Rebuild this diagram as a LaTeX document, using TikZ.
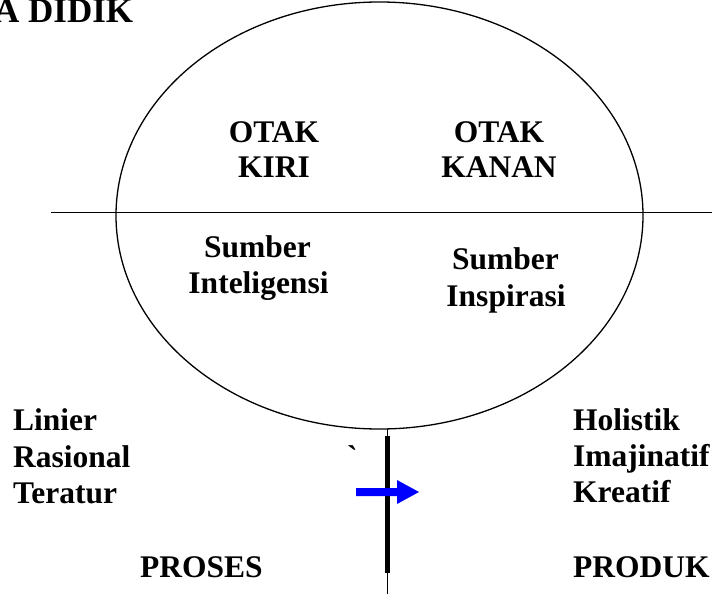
\documentclass[tikz,border=0pt]{standalone}
\usepackage{fontspec}
\setmainfont{Liberation Serif}
\newfontfamily\gravefont{Liberation Serif}
\begin{document}
\begin{tikzpicture}[x=1pt,y=-1pt,
  txt/.style={inner sep=0pt,anchor=base,font=\fontsize{31.5}{36}\selectfont\bfseries},
  txtw/.style={txt,anchor=base west}]
\useasboundingbox (0,0) rectangle (712,594);
% ellipse and dividing line
\draw[line width=1.3pt] (379.5,215.5) ellipse [x radius=263.5, y radius=213.5];
\coordinate (hl) at (51,212.5);
\coordinate (hr) at (712,212.5);
\draw[line width=1.3pt] (hl) -- (hr);
% title
\node[txtw,font=\fontsize{35}{40}\selectfont\bfseries] (title) at (-6,23) {A DIDIK};
% upper texts
\node[txt] (otak1) at (274,142) {OTAK};
\node[txt] (kiri) at (274,177) {KIRI};
\node[txt] (otak2) at (499,142) {OTAK};
\node[txt] (kanan) at (499,177) {KANAN};
% lower texts
\node[txt] (sum1) at (257.5,257) {Sumber};
\node[txt] (intel) at (258.5,293) {Inteligensi};
\node[txt] (sum2) at (505.5,269) {Sumber};
\node[txt] (insp) at (506,306) {Inspirasi};
% left list
\node[txtw] (lin) at (13,430) {Linier};
\node[txtw] (ras) at (13,467) {Rasional};
\node[txtw] (ter) at (13,503) {Teratur};
% right list
\node[txtw] (hol) at (573,430) {Holistik};
\node[txtw] (ima) at (573,466) {Imajinatif};
\node[txtw] (kre) at (573,502) {Kreatif};
% bottom labels
\node[txtw] (proses) at (140,577) {PROSES};
\node[txtw] (produk) at (573,577) {PRODUK};
% backtick
\node[txtw,font=\fontsize{31.5}{36}\gravefont\bfseries] (tick) at (347,467) {\char96};
% vertical bar
\coordinate (vt) at (387,429);
\coordinate (vb) at (387,594);
\coordinate (kt) at (387,436);
\coordinate (kb) at (387,573);
\draw[line width=1pt] (vt) -- (vb);
\draw[line width=5pt] (kt) -- (kb);
% blue arrow
\fill[blue] (356,488) -- (397,488) -- (397,480) -- (419,492) -- (397,504) -- (397,496) -- (356,496) -- cycle;
\end{tikzpicture}
\end{document}
